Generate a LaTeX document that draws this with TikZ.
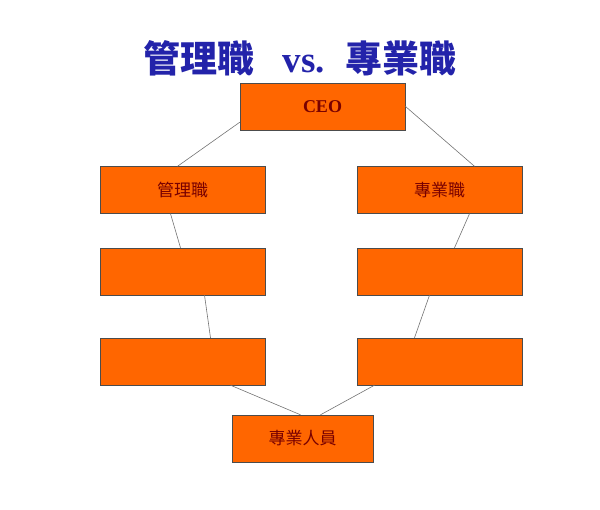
\documentclass[tikz,border=0pt]{standalone}
\usepackage{fontspec}
\newfontfamily\cjk{Noto Sans CJK TC}
\setmainfont{Liberation Serif}
\definecolor{boxfill}{RGB}{255,102,0}
\definecolor{txtred}{RGB}{120,0,0}
\definecolor{ttl}{RGB}{35,35,170}
\tikzset{box/.style={draw=black!70,fill=boxfill,minimum width=165pt,minimum height=47pt,inner sep=0pt,text=txtred,font=\cjk\fontsize{17}{17}\selectfont},
con/.style={draw=black!55,line width=0.6pt}}
\begin{document}
\begin{tikzpicture}[x=1pt,y=-1pt]
\useasboundingbox (0,0) rectangle (600,510);
\node[text=ttl,font=\cjk\bfseries\fontsize{37}{37}\selectfont] (title) at (300,58) {管理職\hspace{28pt}{\rmfamily vs.}\hspace{20pt}專業職};
\node[box,font=\bfseries\fontsize{18}{18}\selectfont] (ceo) at (322.5,106.5) {CEO};
\node[box] (m1) at (182.5,190) {管理職};
\node[box] (m2) at (182.5,271.5) {};
\node[box] (m3) at (182.5,361.5) {};
\node[box] (p1) at (439.5,190) {專業職};
\node[box] (p2) at (439.5,271.5) {};
\node[box] (p3) at (439.5,361.5) {};
\node[box,minimum width=141pt] (s) at (302.5,438.5) {專業人員};
\draw[con] ([yshift=8pt]ceo.south west) -- ([xshift=-5pt]m1.north);
\draw[con] ([yshift=24pt]ceo.south east) -- ([xshift=35pt]p1.north);
\draw[con] ([xshift=-12pt]m1.south) -- ([xshift=-2pt]m2.north);
\draw[con] ([xshift=22pt]m2.south) -- ([xshift=28pt]m3.north);
\draw[con] ([xshift=48pt]m3.south) -- ([xshift=-2pt]s.north);
\draw[con] ([xshift=30pt]p1.south) -- ([xshift=15pt]p2.north);
\draw[con] ([xshift=-10pt]p2.south) -- ([xshift=-25pt]p3.north);
\draw[con] ([xshift=-65pt]p3.south) -- ([xshift=18pt]s.north);
\end{tikzpicture}
\end{document}
